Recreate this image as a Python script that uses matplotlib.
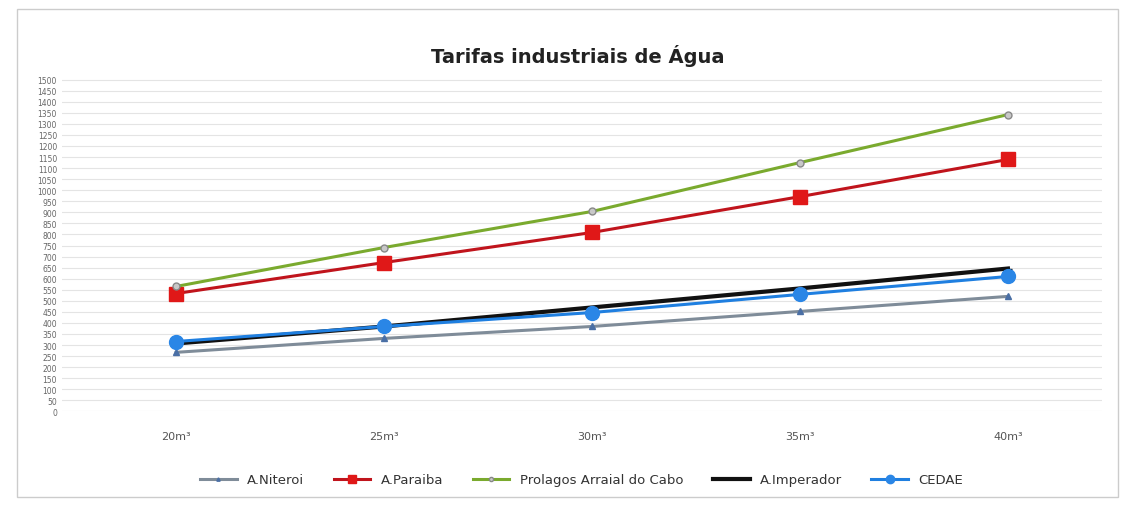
import matplotlib.pyplot as plt
import numpy as np

categories = ["20m³", "25m³", "30m³", "35m³", "40m³"]
niteroi = [267, 330, 384, 452, 520]
paraiba = [533, 673, 809, 971, 1139]
prolagos = [565, 741, 904, 1125, 1342]
imperador = [307, 384, 470, 556, 646]
cedae = [316, 384, 447, 529, 610]
y_ticks = list(range(0, 1501, 50))

fig = plt.figure(figsize=(11.24, 5.06), dpi=100)
ax = fig.add_axes([0.055, 0.185, 0.925, 0.66])

x = np.arange(len(categories))
ax.plot(x, niteroi, color="#7f8c99", lw=2.2, marker="^", ms=4, mfc="#4a6fa5", mec="#4a6fa5", label="A.Niteroi")
ax.plot(x, paraiba, color="#c0141c", lw=2.2, marker="s", ms=10, mfc="#e01818", mec="#e01818", label="A.Paraiba")
ax.plot(x, prolagos, color="#7aaa2e", lw=2.2, marker="o", ms=5, mfc="#c8c8c8", mec="#888888", label="Prolagos Arraial do Cabo")
ax.plot(x, imperador, color="#111111", lw=3, marker="_", ms=6, label="A.Imperador")
ax.plot(x, cedae, color="#1f7fe0", lw=2.2, marker="o", ms=10, mfc="#2a86e6", mec="#2a86e6", label="CEDAE")

ax.set_xlim(-0.55, 4.45)
ax.set_ylim(0, 1510)
ax.set_yticks(y_ticks)
ax.set_yticklabels([str(v) for v in y_ticks], fontsize=5.5, color="#666666")
ax.set_xticks(x)
ax.set_xticklabels(categories, fontsize=8, color="#555555")
ax.tick_params(axis="both", length=0)
ax.tick_params(axis="x", pad=14)
ax.grid(axis="y", color="#e4e4e4", lw=0.8)
ax.set_axisbelow(True)
for s in ax.spines.values():
    s.set_visible(False)

fig.text(0.514, 0.89, "Tarifas industriais de Água", ha="center", va="center",
         fontsize=14, fontweight="bold", color="#222222")

ax.legend(loc="upper center", bbox_to_anchor=(0.5, -0.15), ncol=5, frameon=False,
          fontsize=9.5, handlelength=2.8, columnspacing=2.2, labelcolor="#333333",
          markerscale=0.6)

border = plt.Rectangle((0.015, 0.015), 0.98, 0.965, transform=fig.transFigure,
                       fill=False, ec="#cccccc", lw=1)
fig.patches.append(border)

fig.savefig("out.png", dpi=100)
